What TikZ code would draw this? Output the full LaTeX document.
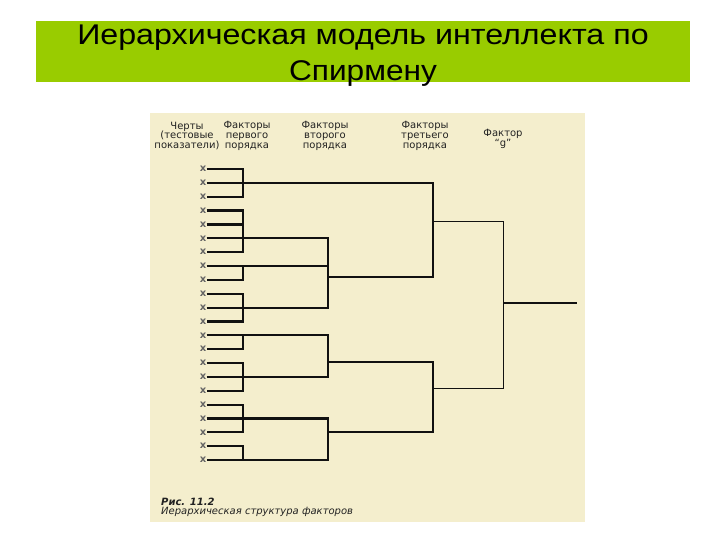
\documentclass[tikz,border=0pt]{standalone}
\usepackage{fontspec}
\setmainfont{Liberation Sans}
\newfontfamily\hdrfont{DejaVu Sans}
\definecolor{bandgreen}{HTML}{99CC00}
\definecolor{panelbeige}{HTML}{F4EECD}
\definecolor{inkdark}{HTML}{111111}
\definecolor{textdark}{HTML}{222222}
\tikzset{
  thickline/.style={line width=2.2pt, draw=inkdark, line join=miter},
  thinline/.style={line width=1pt, draw=inkdark},
  gline/.style={line width=2pt, draw=inkdark},
  hdr/.style={font=\hdrfont\fontsize{10}{9.8}\selectfont, align=center, inner sep=0pt, text=textdark},
  xmark/.style={font=\hdrfont\bfseries\fontsize{10}{10}\selectfont, inner sep=0.2pt, text=textdark!70},
  titletext/.style={font=\fontsize{28.5}{37}\selectfont, inner sep=0pt, anchor=base},
  capfont/.style={font=\hdrfont\fontsize{10}{9}\selectfont, inner sep=0pt, anchor=base west, text=textdark}
}
\begin{document}
\begin{tikzpicture}[x=1pt,y=-1pt]
\useasboundingbox (0,0) rectangle (720,540);
\fill[white] (0,0) rectangle (720,540);
% title band
\fill[bandgreen] (36,21) rectangle (690,82);
\node[titletext] (title1) at (363,45) {\scalebox{1.13}[1]{Иерархическая модель интеллекта по}};
\node[titletext] (title2) at (363,81) {\scalebox{1.11}[1]{Спирмену}};
% panel
\fill[panelbeige] (150,113) rectangle (585,522);
% headers
\node[hdr] (h1) at (187,136) {Черты\\(тестовые\\показатели)};
\node[hdr] (h2) at (247,136) {Факторы\\первого\\порядка};
\node[hdr] (h3) at (325,136) {Факторы\\второго\\порядка};
\node[hdr] (h4) at (425,136) {Факторы\\третьего\\порядка};
\node[hdr] (h5) at (503,139) {Фактор\\“g”};
% trait marks
\foreach \i in {1,...,22} {
  \node[xmark] (x\i) at (203,{169+(\i-1)*13.86}) {x};
}
% column references
\coordinate (F) at (243,0);
\coordinate (S) at (328,0);
\coordinate (T) at (433,0);
\coordinate (G) at (503,0);
% first-order brackets
\foreach \a/\b in {1/3,4/7,8/9,10/12,13/14,15/17,18/20,21/22} {
  \draw[thickline] (x\a.east) -| (x\b.east -| F) -- (x\b.east);
}
\foreach \i in {2,5,6,11,16,19} {
  \draw[thickline] (x\i.east) -- (x\i.east -| F);
}
% second-order brackets
\coordinate (s1) at (328,277);
\coordinate (s2) at (328,362);
\coordinate (s3) at (328,432);
\draw[thickline] (x6.east -| F) -| (x11.east -| S) -- (x11.east -| F);
\draw[thickline] (x8.east -| F) -- (x8.east -| S);
\draw[thickline] (x13.east -| F) -| (x16.east -| S) -- (x16.east -| F);
\draw[thickline] (x19.east -| F) -| (x22.east -| S) -- (x22.east -| F);
% third-order brackets
\coordinate (t1) at (433,222);
\coordinate (t2) at (433,388);
\draw[thickline] (x2.east -| F) -| (s1 -| T) -- (s1);
\draw[thickline] (s2) -| (s3 -| T) -- (s3);
% g factor
\coordinate (gout) at (577,303);
\draw[thinline] (t1) -| (t2 -| G) -- (t2);
\draw[gline] (gout -| G) -- (gout);
% caption
\node[capfont] (cap1) at (161,505) {\bfseries\itshape Рис. 11.2};
\node[capfont] (cap2) at (161,514) {\itshape Иерархическая структура факторов};
\end{tikzpicture}
\end{document}
